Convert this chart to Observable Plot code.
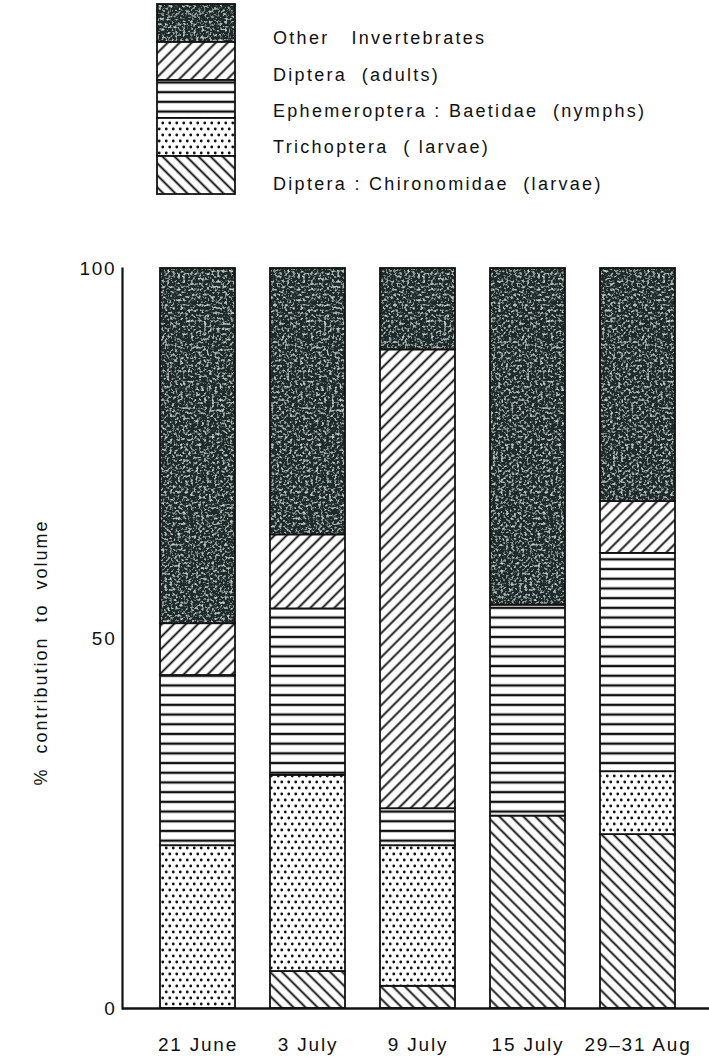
<!DOCTYPE html>
<html><head><meta charset="utf-8">
<script src="https://cdn.jsdelivr.net/npm/d3@7"></script>
<script src="https://cdn.jsdelivr.net/npm/@observablehq/plot@0.6"></script>
<style>
body{margin:0;background:#fff;font-family:"Liberation Sans",Arial,sans-serif;}
#legend,#chart{display:block;line-height:0}
</style></head><body>
<div id="legend"></div><div id="chart"></div>
<script>
// ---- data ----
const dates = ["21 June", "3 July", "9 July", "15 July", "29\u201331 Aug"];
const taxa = [
  "Diptera : Chironomidae  (larvae)",
  "Trichoptera  ( larvae)",
  "Ephemeroptera : Baetidae  (nymphs)",
  "Diptera  (adults)",
  "Other   Invertebrates"
];
const chironomidae = [0, 5, 3, 26, 23.5];
const trichoptera  = [22, 26.5, 19, 0, 8.5];
const baetidae     = [23, 22.5, 5, 28.5, 29.5];
const dipteraAdult = [7, 10, 62, 0, 7];
const other        = [48, 36, 11, 45.5, 31.5];
const series = [chironomidae, trichoptera, baetidae, dipteraAdult, other];
const yTicks = [0, 50, 100];
const yTitle = "%  contribution  to  volume";
const patternIds = ["p-chiro", "p-trich", "p-baet", "p-dipt", "p-other"];

const rows = [];
dates.forEach((d, i) => taxa.forEach((t, j) => {
  const v = series[j][i];
  if (v > 0) rows.push({date: d, taxon: t, value: v});
}));

// ---- legend (with pattern defs) ----
const W = 709;
const leg = d3.select("#legend").append("svg").attr("width", W).attr("height", 215)
  .style("font-family", "Liberation Sans, Arial, sans-serif");
const defs = leg.append("defs");
const f = defs.append("filter").attr("id", "speckle")
  .attr("x", 0).attr("y", 0).attr("width", 1).attr("height", 1);
f.append("feFlood").attr("flood-color", "#1f2a2a").attr("result", "base");
f.append("feTurbulence").attr("type", "fractalNoise").attr("baseFrequency", 0.38)
  .attr("numOctaves", 3).attr("seed", 11).attr("result", "noise");
f.append("feColorMatrix").attr("in", "noise").attr("type", "matrix")
  .attr("values", "0 0 0 0 0.55  0 0 0 0 0.62  0 0 0 0 0.61  3.6 0 0 0 -1.85").attr("result", "spots");
const fm = f.append("feMerge");
fm.append("feMergeNode").attr("in", "base");
fm.append("feMergeNode").attr("in", "spots");

const pOther = defs.append("pattern").attr("id", "p-other").attr("patternUnits", "userSpaceOnUse")
  .attr("width", 120).attr("height", 1000);
pOther.append("rect").attr("width", 120).attr("height", 1000).attr("filter", "url(#speckle)");

function hatch(id, angle, spacing, sw) {
  const p = defs.append("pattern").attr("id", id).attr("patternUnits", "userSpaceOnUse")
    .attr("width", spacing).attr("height", spacing).attr("patternTransform", `rotate(${angle})`);
  p.append("rect").attr("width", spacing).attr("height", spacing).attr("fill", "white");
  p.append("line").attr("x1", -1).attr("x2", spacing + 1).attr("y1", spacing / 2).attr("y2", spacing / 2)
    .attr("stroke", "#111").attr("stroke-width", sw);
}
hatch("p-dipt", -45, 8.5, 1.9);
hatch("p-chiro", 45, 8.5, 1.9);
hatch("p-baet", 0, 9.7, 2.4);
const pt = defs.append("pattern").attr("id", "p-trich").attr("patternUnits", "userSpaceOnUse")
  .attr("width", 7).attr("height", 12);
pt.append("rect").attr("width", 7).attr("height", 12).attr("fill", "white");
pt.append("circle").attr("cx", 1.75).attr("cy", 3).attr("r", 1.4).attr("fill", "#111");
pt.append("circle").attr("cx", 5.25).attr("cy", 9).attr("r", 1.4).attr("fill", "#111");

const legendOrder = taxa.map((t, j) => ({t, id: patternIds[j]})).reverse();
const boxH = 38;
leg.selectAll("rect.box").data(legendOrder).join("rect").attr("class", "box")
  .attr("x", 157).attr("width", 78).attr("y", (d, i) => 4 + i * boxH).attr("height", boxH)
  .attr("fill", d => `url(#${d.id})`).attr("stroke", "#111").attr("stroke-width", 1.8);
leg.selectAll("text").data(legendOrder).join("text")
  .attr("x", 273).attr("y", (d, i) => 38 + i * 36.3).attr("dy", "0.35em")
  .attr("font-size", 18).attr("fill", "#111").style("letter-spacing", "2.3px")
  .style("white-space", "pre")
  .text(d => d.t);

// ---- chart ----
const plot = Plot.plot({
  width: W, height: 846,
  marginTop: 53, marginBottom: 53, marginLeft: 122, marginRight: 0,
  style: {fontFamily: "Liberation Sans, Arial, sans-serif", fontSize: "19px", color: "#111", background: "white", letterSpacing: "1.8px"},
  x: {domain: dates, paddingInner: 0.315, paddingOuter: 0.302, align: 0.537, label: null, tickSize: 0, tickPadding: 29},
  y: {domain: [0, 100], ticks: yTicks, label: null, tickSize: 0, tickPadding: 6, line: true},
  color: {domain: taxa, range: patternIds.map(id => `url(#${id})`)},
  marks: [
    Plot.barY(rows, {x: "date", y: "value", fill: "taxon", stroke: "#111", strokeWidth: 1.8}),
    Plot.ruleY([0], {stroke: "#111", strokeWidth: 2.4}),
    Plot.text([yTitle], {frameAnchor: "left", textAnchor: "middle", rotate: -90, dx: -81, dy: 14, fontSize: 18, fill: "#111"})
  ]
});
const ps = d3.select(plot);
ps.selectAll("text").style("white-space", "pre");
ps.selectAll('[aria-label="frame"]').attr("stroke-width", 2.2);
ps.selectAll('[aria-label="frame"] *').attr("stroke-width", 2.2);
ps.selectAll('[aria-label="text"] text').style("letter-spacing", "2px");
document.getElementById("chart").appendChild(plot);
</script>
</body></html>
